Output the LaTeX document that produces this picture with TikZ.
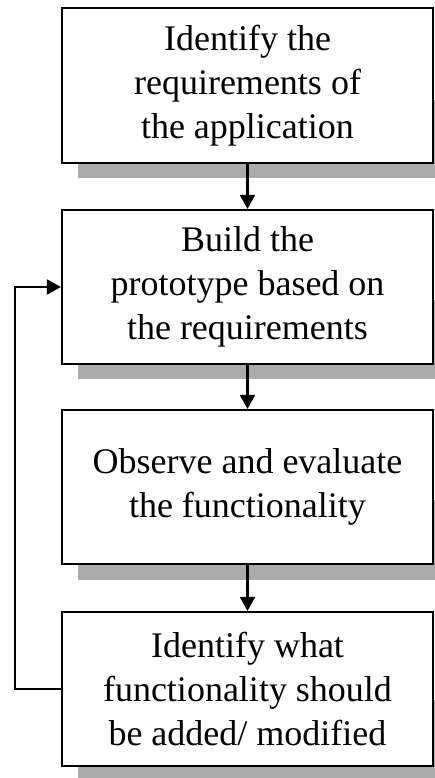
\documentclass[tikz,border=0pt]{standalone}
\usepackage{fontspec}
\setmainfont{Liberation Serif}
\usetikzlibrary{arrows.meta}
\begin{document}
\begin{tikzpicture}[x=1pt,y=-1pt,
  stepbox/.style={draw=black, line width=2.2pt, fill=white, minimum width=371pt,
    inner sep=0pt, align=center, font=\fontsize{36}{44}\selectfont},
  shadowfill/.style={fill=black!33, draw=none},
  flow/.style={line width=2.2pt, -{Triangle[width=15pt,length=14pt]}}]
\useasboundingbox (0,0) rectangle (435,778);
% shadows
\fill[shadowfill] (78,100) rectangle (452,178);
\fill[shadowfill] (78,300) rectangle (452,379);
\fill[shadowfill] (78,500) rectangle (452,580);
\fill[shadowfill] (78,700) rectangle (452,781);
\node[stepbox, minimum height=155pt] (b1) at (247.5,85.5) {Identify the\\requirements of\\the application};
\node[stepbox, minimum height=154pt] (b2) at (247.5,287) {Build the\\prototype based on\\the requirements};
\node[stepbox, minimum height=154pt] (b3) at (247.5,487) {Observe and evaluate\\the functionality};
\node[stepbox, minimum height=154pt] (b4) at (247.5,689) {Identify what\\functionality should\\be added/ modified};
\draw[flow] (b1.south) -- (b2.north);
\draw[flow] (b2.south) -- (b3.north);
\draw[flow] (b3.south) -- (b4.north);
\coordinate (lb) at (15,689);
\coordinate (lt) at (15,287);
\draw[flow] (b4.west) -- (lb) -- (lt) -- (b2.west);
\end{tikzpicture}
\end{document}
